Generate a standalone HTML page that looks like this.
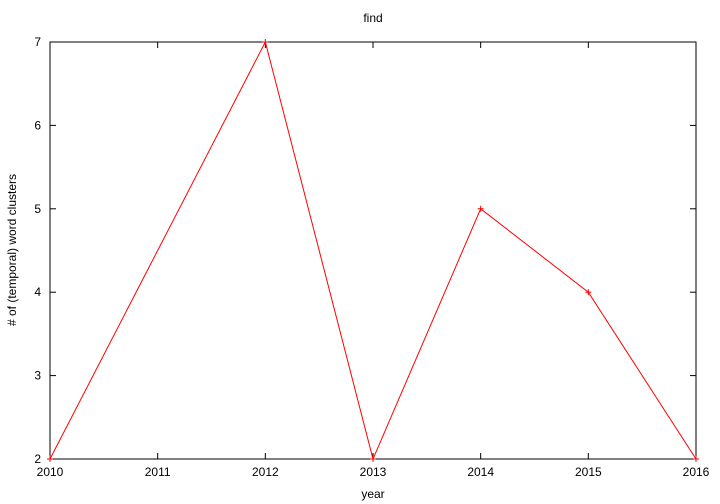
<!DOCTYPE html>
<html><head><meta charset="utf-8"><style>
body{margin:0;background:#fff;}
svg{display:block;font-family:"Liberation Sans",sans-serif;font-size:12px;}
</style></head><body>
<svg id="chart" width="720" height="504"></svg>
<script>
const years=[2010,2012,2013,2014,2015,2016];
const clusters=[2,7,2,5,4,2];
const xTicks=[2010,2011,2012,2013,2014,2015,2016];
const yTicks=[2,3,4,5,6,7];
const NS="http://www.w3.org/2000/svg";
const svg=document.getElementById('chart');
const L=50,R=696,T=42,B=459;
const xs=v=>L+(v-2010)/6*(R-L);
const ys=v=>B-(v-2)/5*(B-T);
function mk(tag,attrs,parent){const e=document.createElementNS(NS,tag);for(const k in attrs)e.setAttribute(k,attrs[k]);(parent||svg).appendChild(e);return e;}
const frame=mk('rect',{x:L,y:T,width:R-L,height:B-T,fill:'none',stroke:'#000','stroke-width':1});


xTicks.forEach(v=>{const x=xs(v);
mk('line',{x1:x,y1:B,x2:x,y2:B-6,stroke:'#000'});
mk('line',{x1:x,y1:T,x2:x,y2:T+6,stroke:'#000'});
const t=mk('text',{x:x,y:B+17,'text-anchor':'middle'});t.textContent=v;

});
yTicks.forEach(v=>{const y=ys(v);
mk('line',{x1:L,y1:y,x2:L+6,y2:y,stroke:'#000'});
mk('line',{x1:R,y1:y,x2:R-6,y2:y,stroke:'#000'});
const t=mk('text',{x:L-9,y:y+4,'text-anchor':'end'});t.textContent=v;

});
const pts=years.map((y,i)=>xs(y)+','+ys(clusters[i])).join(' ');
const line=mk('polyline',{points:pts,fill:'none',stroke:'#ff0000','stroke-width':1});


years.forEach((y,i)=>{const x=xs(y),yy=ys(clusters[i]);
const g=mk('path',{d:`M${x-3},${yy}H${x+3}M${x},${yy-3}V${yy+3}`,stroke:'#ff0000'});

});
const title=mk('text',{x:373,y:22,'text-anchor':'middle'});title.textContent='find';


const xl=mk('text',{x:373,y:498,'text-anchor':'middle'});xl.textContent='year';


const yl=mk('text',{x:0,y:0,'text-anchor':'middle',transform:'translate(16,250) rotate(-90)'});yl.textContent='# of (temporal) word clusters';


</script>
</body></html>
